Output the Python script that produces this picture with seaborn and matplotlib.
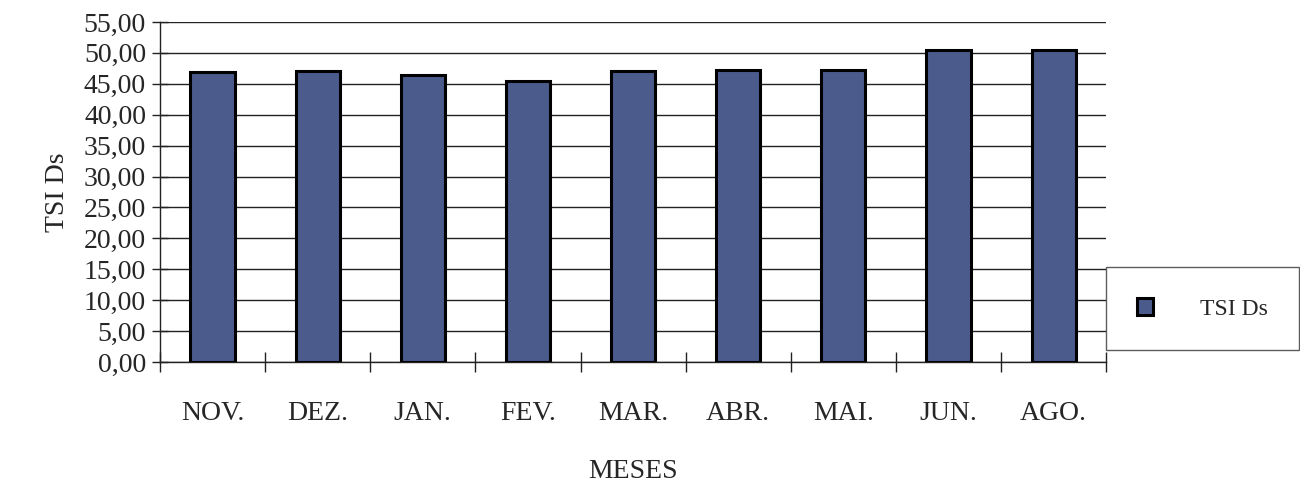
import matplotlib
matplotlib.use("Agg")
import matplotlib.pyplot as plt
import matplotlib.ticker as mticker
import seaborn as sns
import pandas as pd

meses = ["NOV.", "DEZ.", "JAN.", "FEV.", "MAR.", "ABR.", "MAI.", "JUN.", "AGO."]
tsi_ds = [46.9, 47.0, 46.4, 45.4, 47.1, 47.2, 47.2, 50.4, 50.4]
y_ticks = [0, 5, 10, 15, 20, 25, 30, 35, 40, 45, 50, 55]

df = pd.DataFrame({"MESES": meses, "TSI Ds": tsi_ds})

sns.set_style("white")
plt.rcParams["font.family"] = ["Liberation Serif", "DejaVu Serif"]

fig = plt.figure(figsize=(13, 4.88), dpi=100)
ax = fig.add_axes([0.123, 0.258, 0.728, 0.697])

sns.barplot(data=df, x="MESES", y="TSI Ds", color="#4b5b8c", saturation=1,
            edgecolor="black", linewidth=2.2, width=0.42, ax=ax, zorder=3)

ax.set_xlim(-0.5, len(meses) - 0.5)
ax.set_ylim(0, 55)
ax.set_yticks(y_ticks)
ax.yaxis.set_major_formatter(mticker.FuncFormatter(lambda v, p: f"{v:.2f}".replace(".", ",")))
ax.yaxis.grid(True, color="#222222", linewidth=1.0, zorder=0)
ax.set_axisbelow(True)

for side in ["top", "right"]:
    ax.spines[side].set_visible(False)
for side in ["left", "bottom"]:
    ax.spines[side].set_color("#222222")
    ax.spines[side].set_linewidth(1.0)

# category separators as crossing ticks
ax.set_xticks([i - 0.5 for i in range(len(meses) + 1)], minor=True)
ax.tick_params(axis="x", which="both", bottom=True)
ax.tick_params(axis="y", which="both", left=True)
ax.tick_params(axis="x", which="major", length=0, pad=28, labelsize=20)
ax.tick_params(axis="x", which="minor", length=14, direction="inout", width=1, color="#222222")
ax.tick_params(axis="y", which="major", length=12, direction="inout", width=1, color="#222222",
               labelsize=20, pad=4)

ax.set_xlabel("MESES", fontsize=20, labelpad=24)
ax.set_ylabel("TSI Ds", fontsize=20, labelpad=10)

leg = fig.legend(handles=ax.patches[:1], labels=["TSI Ds"], loc="center",
                 bbox_to_anchor=(0.925, 0.367), bbox_transform=fig.transFigure,
                 fontsize=17, frameon=True, fancybox=False, edgecolor="#333333",
                 borderpad=1.3, handlelength=0.7, handleheight=0.7, handletextpad=2.0,
                 borderaxespad=0)
leg.get_frame().set_linewidth(1.0)

fig.savefig("out.png", dpi=100, facecolor="white")
